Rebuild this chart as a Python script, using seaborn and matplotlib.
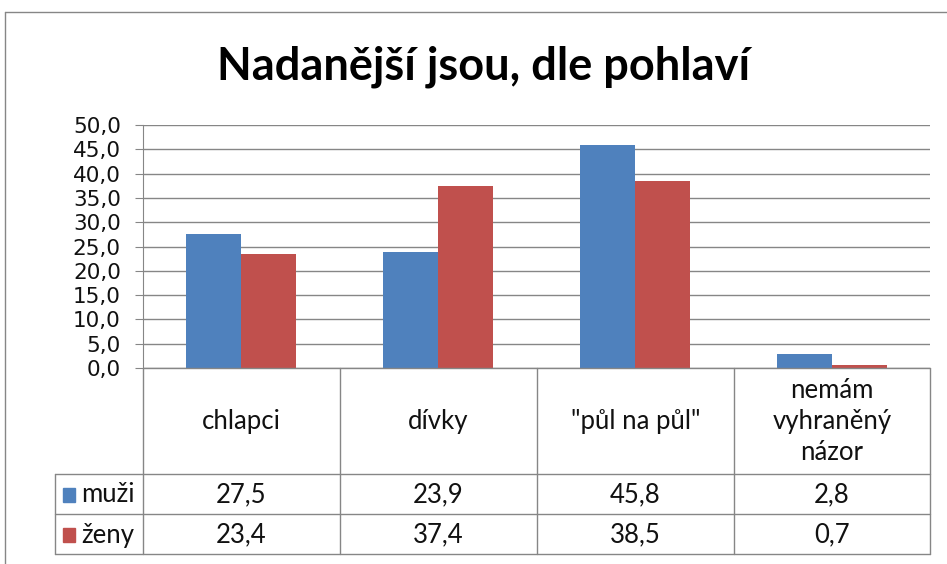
import matplotlib
matplotlib.use("Agg")
import matplotlib.pyplot as plt
import seaborn as sns
import pandas as pd
from matplotlib.lines import Line2D
from matplotlib.patches import Rectangle

categories = ["chlapci", "dívky", "\"půl na půl\"", "nemám\nvyhraněný\nnázor"]
series = ["muži", "ženy"]
muzi = [27.5, 23.9, 45.8, 2.8]
zeny = [23.4, 37.4, 38.5, 0.7]
yticks = [0, 5, 10, 15, 20, 25, 30, 35, 40, 45, 50]
colors = ["#4F81BD", "#C0504D"]

df = pd.DataFrame({
    "cat": categories * 2,
    "series": [series[0]] * 4 + [series[1]] * 4,
    "val": muzi + zeny,
})

sns.set_style("white")
plt.rcParams["font.family"] = ["Lato", "DejaVu Sans"]

W, H = 947, 564
fig = plt.figure(figsize=(W / 100, H / 100), dpi=100)

def fx(x):
    return x / W

def fy(y):
    return 1 - y / H

x0, x1, ytop, ybot = 143, 930, 125, 368
ax = fig.add_axes([fx(x0), fy(ybot), fx(x1 - x0), (ybot - ytop) / H])
sns.barplot(data=df, x="cat", y="val", hue="series", palette=colors,
            width=0.56, ax=ax, legend=False, saturation=1, linewidth=0)
ax.set_ylim(0, 50)
ax.set_xlim(-0.5, 3.5)
ax.set_yticks(yticks)
ax.set_yticklabels([f"{v:.1f}".replace(".", ",") for v in yticks],
                   fontsize=15.5, family="DejaVu Sans", color="#111111")
ax.set_xticks([])
ax.set_xlabel("")
ax.set_ylabel("")
ax.grid(axis="y", color="#868686", linewidth=1)
ax.set_axisbelow(True)
for s in ["top", "right", "bottom"]:
    ax.spines[s].set_visible(False)
ax.spines["left"].set_color("#868686")
ax.tick_params(axis="y", length=6, color="#868686", pad=10, left=True)

gray = "#868686"
def hline(y, xa, xb):
    fig.add_artist(Line2D([fx(xa), fx(xb)], [fy(y), fy(y)], color=gray, lw=1))
def vline(x, ya, yb):
    fig.add_artist(Line2D([fx(x), fx(x)], [fy(ya), fy(yb)], color=gray, lw=1))

# outer frame
hline(12, 5, W)
vline(5, 12, H)

# data table
hline(368, 143, 930)
hline(474, 55, 930)
hline(514, 55, 930)
hline(554, 55, 930)
for xv in [143, 340, 537, 734, 930]:
    vline(xv, 368, 554)
vline(55, 474, 554)

fs = 18.5
centers = [(143 + 340) / 2, (340 + 537) / 2, (537 + 734) / 2, (734 + 930) / 2]
for c, cat in zip(centers, categories):
    fig.text(fx(c), fy(422), cat, ha="center", va="center", fontsize=fs,
             linespacing=1.3, color="#111111")
for row_y, name, vals, col in [(495, series[0], muzi, colors[0]),
                               (535, series[1], zeny, colors[1])]:
    fig.add_artist(Rectangle((fx(63), fy(row_y + 7)), fx(12), 14 / H,
                             color=col, transform=fig.transFigure))
    fig.text(fx(81), fy(row_y), name, ha="left", va="center", fontsize=fs,
             color="#111111")
    for c, v in zip(centers, vals):
        fig.text(fx(c), fy(row_y), f"{v:.1f}".replace(".", ","),
                 ha="center", va="center", fontsize=fs, color="#111111")

fig.text(fx(484), fy(67), "Nadanější jsou, dle pohlaví", ha="center",
         va="center", fontsize=32.5, fontweight="bold", color="#000000")

fig.savefig("out.png", dpi=100)
